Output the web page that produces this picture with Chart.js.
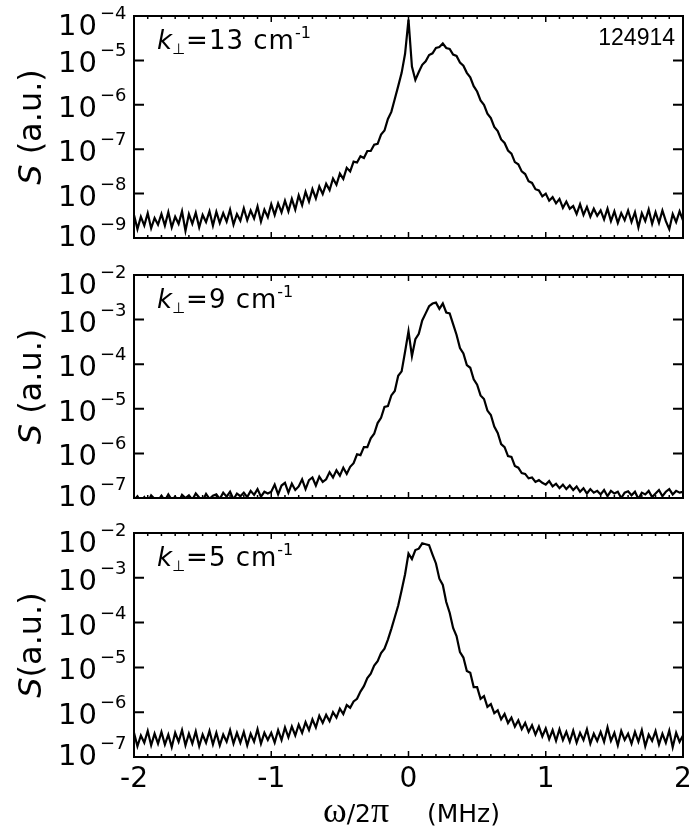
<!DOCTYPE html>
<html>
<head>
<meta charset="utf-8">
<script src="https://cdn.jsdelivr.net/npm/chart.js@4.4.1/dist/chart.umd.min.js"></script>
<style>
  html, body { margin: 0; padding: 0; background: #fff; }
  #wrap { position: relative; width: 691px; height: 836px; }
  canvas { position: absolute; left: 0; }
</style>
</head>
<body>
<div id="wrap">
  <canvas id="c13" width="691" height="260" style="top:0px"></canvas>
  <canvas id="c9" width="691" height="260" style="top:260px"></canvas>
  <canvas id="c5" width="691" height="316" style="top:520px"></canvas>
</div>
<script>
const logS13 = [
    -8.48, -8.80, -8.52, -8.72, -8.44, -8.78, -8.55, -8.70,
    -8.46, -8.72, -8.42, -8.76, -8.52, -8.68, -8.40, -8.84,
    -8.46, -8.68, -8.43, -8.76, -8.48, -8.64, -8.40, -8.72,
    -8.41, -8.66, -8.44, -8.63, -8.36, -8.70, -8.46, -8.61,
    -8.33, -8.60, -8.38, -8.56, -8.29, -8.63, -8.36, -8.53,
    -8.24, -8.48, -8.22, -8.42, -8.16, -8.40, -8.12, -8.36,
    -8.04, -8.26, -7.96, -8.18, -7.90, -8.11, -7.84, -8.01,
    -7.78, -7.92, -7.66, -7.80, -7.55, -7.67, -7.42, -7.50,
    -7.28, -7.30, -7.16, -7.20, -7.04, -7.04, -6.90, -6.88,
    -6.67, -6.58, -6.32, -6.16, -5.87, -5.58, -5.28, -4.85,
    -4.08, -5.14, -5.44, -5.26, -5.10, -5.02, -4.88, -4.84,
    -4.72, -4.70, -4.62, -4.72, -4.74, -4.87, -4.90, -5.05,
    -5.12, -5.28, -5.38, -5.58, -5.70, -5.90, -6.00, -6.20,
    -6.30, -6.50, -6.59, -6.78, -6.86, -7.03, -7.10, -7.29,
    -7.34, -7.50, -7.56, -7.72, -7.76, -7.90, -7.93, -8.06,
    -8.00, -8.16, -8.08, -8.22, -8.12, -8.32, -8.18, -8.34,
    -8.28, -8.46, -8.24, -8.48, -8.30, -8.52, -8.34, -8.50,
    -8.38, -8.58, -8.34, -8.62, -8.40, -8.66, -8.44, -8.60,
    -8.38, -8.64, -8.42, -8.76, -8.44, -8.62, -8.36, -8.68,
    -8.42, -8.66, -8.38, -8.62, -8.80, -8.46, -8.64, -8.40,
    -8.60
];
const logS9 = [
    -7.05, -6.96, -7.08, -6.98, -7.10, -6.94, -7.02, -7.06,
    -6.95, -7.06, -6.92, -7.04, -6.97, -7.10, -6.93, -7.00,
    -6.94, -7.04, -6.90, -6.99, -7.06, -6.91, -7.02, -6.95,
    -6.92, -7.02, -6.88, -6.97, -6.86, -7.03, -6.90, -6.96,
    -6.88, -6.98, -6.84, -6.93, -6.80, -6.97, -6.86, -6.90,
    -6.86, -6.70, -6.92, -6.72, -6.66, -6.88, -6.68, -6.82,
    -6.74, -6.58, -6.80, -6.60, -6.54, -6.72, -6.52, -6.64,
    -6.58, -6.42, -6.54, -6.38, -6.50, -6.32, -6.46, -6.30,
    -6.22, -6.02, -6.04, -5.86, -5.86, -5.66, -5.56, -5.32,
    -5.20, -4.96, -4.94, -4.70, -4.60, -4.26, -4.16, -3.72,
    -3.26, -3.82, -3.44, -3.32, -3.02, -2.86, -2.70, -2.64,
    -2.62, -2.76, -2.64, -2.84, -2.86, -3.10, -3.34, -3.64,
    -3.76, -4.02, -4.08, -4.34, -4.46, -4.70, -4.78, -5.04,
    -5.14, -5.40, -5.54, -5.79, -5.86, -6.06, -6.08, -6.28,
    -6.32, -6.44, -6.46, -6.56, -6.54, -6.64, -6.60, -6.66,
    -6.70, -6.62, -6.74, -6.68, -6.78, -6.70, -6.80, -6.72,
    -6.82, -6.74, -6.86, -6.78, -6.90, -6.80, -6.88, -6.84,
    -6.92, -6.82, -6.96, -6.84, -6.90, -6.86, -7.00, -6.88,
    -6.85, -6.94, -6.86, -7.02, -6.88, -6.92, -6.84, -6.98,
    -6.90, -6.82, -6.96, -6.86, -6.80, -6.92, -6.84, -6.88,
    -6.86
];
const logS5 = [
    -6.46, -6.76, -6.52, -6.68, -6.42, -6.74, -6.48, -6.70,
    -6.44, -6.72, -6.50, -6.78, -6.46, -6.66, -6.40, -6.74,
    -6.48, -6.70, -6.43, -6.76, -6.50, -6.68, -6.42, -6.72,
    -6.46, -6.74, -6.50, -6.66, -6.40, -6.70, -6.46, -6.68,
    -6.44, -6.74, -6.48, -6.66, -6.38, -6.70, -6.46, -6.62,
    -6.46, -6.68, -6.40, -6.62, -6.34, -6.56, -6.32, -6.52,
    -6.28, -6.46, -6.22, -6.40, -6.16, -6.34, -6.08, -6.24,
    -6.06, -6.20, -6.00, -6.12, -5.92, -6.04, -5.84, -5.90,
    -5.76, -5.70, -5.54, -5.42, -5.24, -5.14, -4.96, -4.86,
    -4.68, -4.58, -4.38, -4.14, -3.88, -3.62, -3.28, -2.92,
    -2.46, -2.58, -2.38, -2.35, -2.23, -2.25, -2.27, -2.48,
    -2.68, -3.02, -3.16, -3.54, -3.78, -4.12, -4.30, -4.66,
    -4.78, -5.08, -5.12, -5.44, -5.44, -5.70, -5.64, -5.88,
    -5.82, -6.02, -5.96, -6.16, -6.04, -6.24, -6.12, -6.32,
    -6.18, -6.38, -6.24, -6.44, -6.29, -6.50, -6.32, -6.54,
    -6.36, -6.60, -6.40, -6.64, -6.38, -6.62, -6.44, -6.66,
    -6.41, -6.68, -6.46, -6.62, -6.38, -6.70, -6.48, -6.64,
    -6.44, -6.66, -6.34, -6.64, -6.46, -6.74, -6.42, -6.62,
    -6.48, -6.70, -6.44, -6.66, -6.40, -6.76, -6.50, -6.64,
    -6.42, -6.72, -6.48, -6.68, -6.41, -6.78, -6.46, -6.66,
    -6.52
];
// Frequenzraster (MHz), Index 80 = 0
const freq = logS13.map((_, i) => (i - 80) / 40);

const xTicks = [-2, -1, 0, 1, 2];
const xTickLabels = ["-2", "-1", "0", "1", "2"];
const yTicks13 = [1e-9, 1e-8, 1e-7, 1e-6, 1e-5, 1e-4];
const yTicks9 = [1e-7, 1e-6, 1e-5, 1e-4, 1e-3, 1e-2];
const yTicks5 = [1e-7, 1e-6, 1e-5, 1e-4, 1e-3, 1e-2];
const kLabels = ["13", "9", "5"];
const shotNumber = "124914";

const FONT = "'DejaVu Sans', 'Liberation Sans', sans-serif";

// --- Rahmen, Ticks und Beschriftung ---
function decorPlugin(o) {
    return {
        id: "decor",
        afterDraw(chart) {
            const { ctx, chartArea: a } = chart;
            const xs = chart.scales.x;
            const ys = chart.scales.y;
            ctx.save();
            ctx.fillStyle = "#000";
            ctx.strokeStyle = "#000";

            ctx.lineWidth = 2;
            ctx.strokeRect(a.left, a.top, a.right - a.left, a.bottom - a.top);

            // x-Ticks oben/unten, klein alle 0.1
            ctx.lineWidth = 1.5;
            ctx.beginPath();
            for (let k = -20; k <= 20; k++) {
                const px = xs.getPixelForValue(k / 10);
                const len = k % 10 === 0 ? 6 : 3;
                ctx.moveTo(px, a.top);
                ctx.lineTo(px, a.top + len);
                ctx.moveTo(px, a.bottom);
                ctx.lineTo(px, a.bottom - len);
            }
            ctx.stroke();

            // y-Ticks links/rechts
            ctx.lineWidth = 2;
            ctx.beginPath();
            o.yTicks.forEach((v, i) => {
                if (i === 0 || i === o.yTicks.length - 1) return;
                const py = ys.getPixelForValue(v);
                ctx.moveTo(a.left, py);
                ctx.lineTo(a.left + 10, py);
                ctx.moveTo(a.right, py);
                ctx.lineTo(a.right - 10, py);
            });
            ctx.stroke();

            // y-Beschriftung 10^-n
            ctx.textAlign = "left";
            ctx.textBaseline = "alphabetic";
            o.yTicks.forEach((v, i) => {
                const py = ys.getPixelForValue(v);
                let base = py + 12;
                if (i === o.yTicks.length - 1) base = py + 19;
                if (i === 0) base = py + 8;
                ctx.font = "29px " + FONT;
                ctx.letterSpacing = "2px";
                ctx.fillText("10", 58, base);
                ctx.letterSpacing = "0px";
                ctx.font = "18px " + FONT;
                ctx.fillText("\u2212" + Math.round(-Math.log10(v)), 100, base - 16);
            });

            // y-Achsentitel
            ctx.save();
            ctx.translate(33, (a.top + a.bottom) / 2);
            ctx.rotate(-Math.PI / 2);
            ctx.textBaseline = "middle";
            ctx.font = "italic 32px " + FONT;
            const wS = ctx.measureText("S").width;
            ctx.font = "32px " + FONT;
            const wR = ctx.measureText(o.yTitleRest).width;
            const sx = -(wS + wR) / 2;
            ctx.font = "italic 32px " + FONT;
            ctx.fillText("S", sx, 0);
            ctx.font = "32px " + FONT;
            ctx.fillText(o.yTitleRest, sx + wS, 0);
            ctx.restore();

            // k-Label
            let x = 157;
            const kb = a.top + 33;
            ctx.font = "italic 26px " + FONT;
            ctx.fillText("k", x, kb);
            x += ctx.measureText("k").width;
            ctx.font = "15px " + FONT;
            ctx.fillText("\u22A5", x, kb + 5);
            x += ctx.measureText("\u22A5").width + 1;
            ctx.font = "26px " + FONT;
            ctx.letterSpacing = "1px";
            const t = "=" + o.k + " cm";
            ctx.fillText(t, x, kb);
            x += ctx.measureText(t).width;
            ctx.letterSpacing = "0px";
            ctx.font = "16px " + FONT;
            ctx.fillText("-1", x, kb - 11);

            if (o.shot) {
                ctx.font = "23px 'Liberation Sans', Arial, sans-serif";
                ctx.textAlign = "right";
                ctx.fillText(o.shot, 675, a.top + 29);
                ctx.textAlign = "left";
            }

            if (o.xAxis) {
                ctx.font = "28px " + FONT;
                ctx.textAlign = "center";
                xTicks.forEach((v, i) => {
                    ctx.fillText(xTickLabels[i], xs.getPixelForValue(v), a.bottom + 30);
                });
                ctx.textAlign = "left";
                let tx = 323;
                const tb = a.bottom + 65;
                ctx.font = "36px 'Liberation Serif', serif";
                ctx.fillText("\u03C9", tx, tb);
                tx += ctx.measureText("\u03C9").width;
                ctx.font = "25px " + FONT;
                ctx.fillText("/2", tx, tb);
                tx += ctx.measureText("/2").width;
                ctx.font = "36px 'Liberation Serif', serif";
                ctx.fillText("\u03C0", tx, tb);
                ctx.font = "25px " + FONT;
                ctx.fillText("(MHz)", 427, tb);
            }
            ctx.restore();
        },
    };
}

function makePanel(id, logVals, yTicks, pad, o) {
    const ctx = document.getElementById(id).getContext("2d");
    return new Chart(ctx, {
        type: "line",
        data: {
            datasets: [
                {
                    data: freq.map((f, i) => ({ x: f, y: Math.pow(10, logVals[i]) })),
                    borderColor: "#000",
                    borderWidth: 2.2,
                    pointRadius: 0,
                    tension: 0,
                },
            ],
        },
        options: {
            responsive: false,
            animation: false,
            events: [],
            layout: { padding: pad },
            plugins: { legend: { display: false }, tooltip: { enabled: false } },
            scales: {
                x: { type: "linear", min: -2, max: 2, display: false },
                y: {
                    type: "logarithmic",
                    min: yTicks[0],
                    max: yTicks[yTicks.length - 1],
                    display: false,
                },
            },
        },
        plugins: [decorPlugin(Object.assign({ yTicks: yTicks }, o))],
    });
}

makePanel("c13", logS13, yTicks13, { left: 134, right: 8, top: 16, bottom: 22 },
    { k: kLabels[0], shot: shotNumber, yTitleRest: " (a.u.)" });
makePanel("c9", logS9, yTicks9, { left: 134, right: 8, top: 15, bottom: 22 },
    { k: kLabels[1], yTitleRest: " (a.u.)" });
makePanel("c5", logS5, yTicks5, { left: 134, right: 8, top: 13, bottom: 79 },
    { k: kLabels[2], yTitleRest: "(a.u.)", xAxis: true });
</script>
</body>
</html>
